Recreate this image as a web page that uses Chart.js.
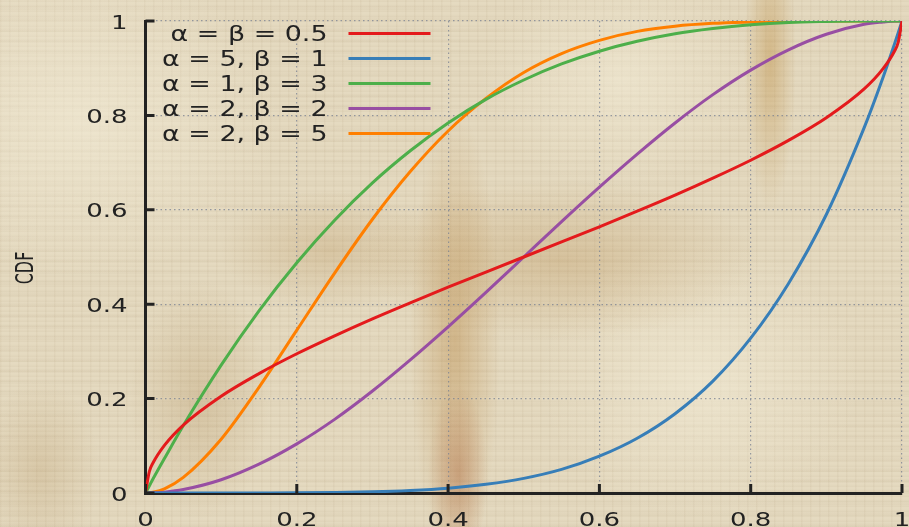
<!DOCTYPE html>
<html>
<head>
<meta charset="utf-8">
<script src="https://cdn.jsdelivr.net/npm/chart.js@4/dist/chart.umd.min.js"></script>
<style>
  html, body { margin: 0; padding: 0; }
  body {
    width: 909px; height: 527px; overflow: hidden;
    background-color: #e4d9bf;
    background-image:
      radial-gradient(ellipse 30px 90px at 458px 475px, rgba(165,85,40,0.35), rgba(165,85,40,0) 100%),
      radial-gradient(ellipse 45px 230px at 455px 340px, rgba(175,120,45,0.36), rgba(175,120,45,0) 100%),
      radial-gradient(ellipse 26px 150px at 770px 60px, rgba(185,135,55,0.4), rgba(185,135,55,0) 100%),
      radial-gradient(ellipse 200px 80px at 560px 260px, rgba(175,130,65,0.28), rgba(175,130,65,0) 100%),
      radial-gradient(ellipse 110px 60px at 330px 250px, rgba(170,125,60,0.22), rgba(170,125,60,0) 100%),
      radial-gradient(ellipse 70px 120px at 200px 400px, rgba(160,120,60,0.22), rgba(160,120,60,0) 100%),
      radial-gradient(ellipse 60px 90px at 40px 470px, rgba(160,120,60,0.18), rgba(160,120,60,0) 100%),
      radial-gradient(ellipse 200px 160px at 80px 120px, rgba(246,240,220,0.5), rgba(246,240,220,0) 100%),
      radial-gradient(ellipse 160px 140px at 700px 380px, rgba(246,240,220,0.5), rgba(246,240,220,0) 100%),
      radial-gradient(ellipse 140px 110px at 620px 80px, rgba(246,240,220,0.45), rgba(246,240,220,0) 100%),
      repeating-linear-gradient(0deg, rgba(120,90,50,0.035) 0px, rgba(120,90,50,0.035) 1px, rgba(255,255,255,0) 2px, rgba(255,255,255,0) 3px, rgba(255,250,235,0.06) 4px, rgba(255,255,255,0) 5px),
      repeating-linear-gradient(0deg, rgba(110,80,40,0.03) 0px, rgba(110,80,40,0.03) 3px, rgba(255,255,255,0) 5px, rgba(255,255,255,0) 11px),
      repeating-linear-gradient(90deg, rgba(120,90,50,0.05) 0px, rgba(120,90,50,0.05) 1px, rgba(255,255,255,0) 2px, rgba(255,255,255,0) 9px);
  }
  #wrap { position: relative; width: 909px; height: 527px; }
  canvas { display: block; }
</style>
</head>
<body>
<div id="wrap"><canvas id="betaChart" width="909" height="527"></canvas></div>
<script>
const xValues = [0, 0.005, 0.01, 0.025, 0.05, 0.1, 0.15, 0.2, 0.25, 0.3, 0.35, 0.4, 0.45, 0.5,
  0.55, 0.6, 0.65, 0.7, 0.75, 0.8, 0.85, 0.9, 0.95, 0.975, 0.99, 0.995, 1];

const seriesLabels = ['α = β = 0.5', 'α = 5, β = 1', 'α = 1, β = 3', 'α = 2, β = 2', 'α = 2, β = 5'];
const seriesColors = ['#e41a1c', '#377eb8', '#4daf4a', '#984ea3', '#ff7f00'];

const cdfHalfHalf = [0, 0.045, 0.064, 0.101, 0.144, 0.205, 0.253, 0.295, 0.333, 0.369, 0.403, 0.436, 0.468, 0.5,
  0.532, 0.564, 0.597, 0.631, 0.667, 0.705, 0.747, 0.795, 0.856, 0.899, 0.936, 0.955, 1];
const cdfFiveOne = [0, 0, 0, 0, 0, 0.00001, 0.0001, 0.0003, 0.001, 0.0024, 0.0053, 0.0102, 0.0185, 0.031,
  0.05, 0.078, 0.116, 0.168, 0.237, 0.328, 0.444, 0.59, 0.774, 0.881, 0.951, 0.975, 1];
const cdfOneThree = [0, 0.015, 0.03, 0.073, 0.143, 0.271, 0.386, 0.488, 0.578, 0.657, 0.725, 0.784, 0.834, 0.875,
  0.909, 0.936, 0.957, 0.973, 0.984, 0.992, 0.997, 0.999, 1, 1, 1, 1, 1];
const cdfTwoTwo = [0, 0.0001, 0.0003, 0.0018, 0.0073, 0.028, 0.061, 0.104, 0.156, 0.216, 0.282, 0.352, 0.425, 0.5,
  0.575, 0.648, 0.718, 0.784, 0.844, 0.896, 0.939, 0.972, 0.993, 0.998, 1, 1, 1];
const cdfTwoFive = [0, 0.0004, 0.0015, 0.0088, 0.033, 0.114, 0.224, 0.345, 0.466, 0.58, 0.681, 0.767, 0.836, 0.891,
  0.931, 0.959, 0.978, 0.989, 0.995, 0.998, 1, 1, 1, 1, 1, 1, 1];

const xTicks = [0, 0.2, 0.4, 0.6, 0.8, 1];
const yTicks = [0, 0.2, 0.4, 0.6, 0.8, 1];
const yTitle = 'CDF';

const allSeries = [cdfHalfHalf, cdfFiveOne, cdfOneThree, cdfTwoTwo, cdfTwoFive];
const FONT = 'DejaVu Sans';
const INK = '#222';
const STRETCH = 1.3; // the original text is drawn wide

const fmt = v => String(+v.toFixed(1));

function wideText(ctx, text, x, y, align) {
  ctx.save();
  ctx.translate(x, y);
  ctx.scale(STRETCH, 1);
  ctx.textAlign = align;
  ctx.fillText(text, 0, 0);
  ctx.restore();
}

// inward tick marks, tick labels and the axis title
const axesDecor = {
  id: 'axesDecor',
  afterDraw(chart) {
    const {ctx, chartArea: a, scales: {x, y}} = chart;
    ctx.save();
    ctx.strokeStyle = INK;
    ctx.lineWidth = 3;
    ctx.beginPath();
    xTicks.forEach(v => {
      const px = x.getPixelForValue(v);
      ctx.moveTo(px, a.bottom);
      ctx.lineTo(px, a.bottom - 9);
    });
    yTicks.forEach(v => {
      const py = y.getPixelForValue(v);
      ctx.moveTo(a.left, py);
      ctx.lineTo(a.left + 9, py);
    });
    ctx.stroke();

    ctx.fillStyle = INK;
    ctx.font = '20px "' + FONT + '"';
    ctx.textBaseline = 'alphabetic';
    xTicks.forEach(v => wideText(ctx, fmt(v), x.getPixelForValue(v), a.bottom + 33, 'center'));
    yTicks.forEach(v => wideText(ctx, fmt(v), a.left - 18, y.getPixelForValue(v) + 7.5, 'right'));

    ctx.font = '16px "' + FONT + '"';
    ctx.translate(33, (a.top + a.bottom) / 2 + 11);
    ctx.rotate(-Math.PI / 2);
    ctx.scale(1, 1.55);
    ctx.textAlign = 'center';
    ctx.fillText(yTitle, 0, 0);
    ctx.restore();
  }
};

// legend: text right aligned, line sample to the right
const sideLegend = {
  id: 'sideLegend',
  afterDraw(chart) {
    const {ctx, chartArea: a} = chart;
    ctx.save();
    ctx.font = '20.7px "' + FONT + '"';
    ctx.textBaseline = 'alphabetic';
    chart.data.datasets.forEach((ds, i) => {
      const cy = a.top + 12.5 + i * 25;
      ctx.fillStyle = INK;
      wideText(ctx, ds.label, a.left + 182, cy + 7.5, 'right');
      ctx.strokeStyle = ds.borderColor;
      ctx.lineWidth = 3;
      ctx.beginPath();
      ctx.moveTo(a.left + 203, cy);
      ctx.lineTo(a.left + 285, cy);
      ctx.stroke();
    });
    ctx.restore();
  }
};

new Chart(document.getElementById('betaChart'), {
  type: 'line',
  data: {
    datasets: allSeries.map((vals, i) => ({
      label: seriesLabels[i],
      data: xValues.map((xv, j) => ({x: xv, y: vals[j]})),
      borderColor: seriesColors[i],
      borderWidth: 3,
      pointRadius: 0,
      fill: false,
      cubicInterpolationMode: 'monotone'
    }))
  },
  options: {
    responsive: false,
    animation: false,
    devicePixelRatio: 1,
    layout: {padding: {top: 21, right: 7, left: 0, bottom: 0}},
    plugins: {legend: {display: false}, tooltip: {enabled: false}},
    scales: {
      x: {
        type: 'linear', min: 0, max: 1,
        afterFit(s) { s.height = 34; s.paddingLeft = 0; s.paddingRight = 0; },
        afterBuildTicks(s) { s.ticks = xTicks.map(v => ({value: v})); },
        grid: {color: 'rgba(120,128,145,0.75)', lineWidth: 1.2, drawTicks: false},
        border: {display: true, color: INK, width: 3, dash: [1.5, 3]},
        ticks: {display: false}
      },
      y: {
        type: 'linear', min: 0, max: 1,
        afterFit(s) { s.width = 145.5; s.paddingTop = 0; s.paddingBottom = 0; },
        afterBuildTicks(s) { s.ticks = yTicks.map(v => ({value: v})); },
        grid: {color: 'rgba(120,128,145,0.75)', lineWidth: 1.2, drawTicks: false},
        border: {display: true, color: INK, width: 3, dash: [1.5, 3]},
        ticks: {display: false}
      }
    }
  },
  plugins: [axesDecor, sideLegend]
});
</script>
</body>
</html>
